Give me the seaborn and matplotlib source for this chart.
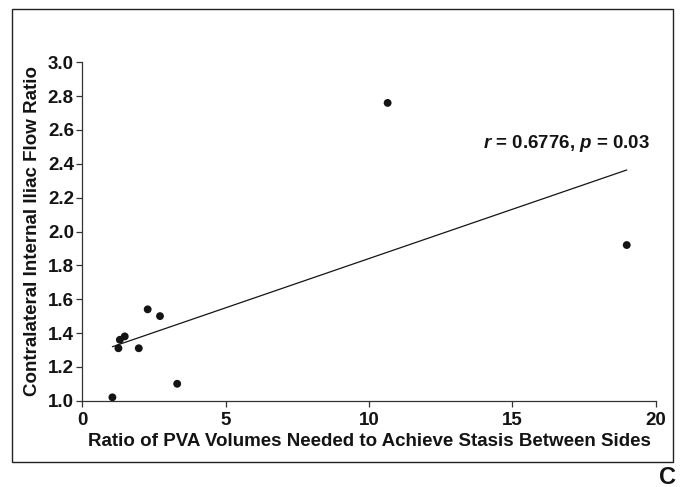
import matplotlib
matplotlib.use("Agg")
import matplotlib.pyplot as plt
import seaborn as sns
import numpy as np
import pandas as pd
from matplotlib.patches import Rectangle

# Data
pva_ratio = [1.05, 1.26, 1.31, 1.48, 1.97, 2.28, 2.71, 3.31, 10.65, 18.99]
flow_ratio = [1.02, 1.31, 1.36, 1.38, 1.31, 1.54, 1.50, 1.10, 2.76, 1.92]
x_ticks = [0, 5, 10, 15, 20]
y_ticks = [1.0, 1.2, 1.4, 1.6, 1.8, 2.0, 2.2, 2.4, 2.6, 2.8, 3.0]

df = pd.DataFrame({"x": pva_ratio, "y": flow_ratio})

sns.set_theme(style="ticks")
plt.rcParams['font.family'] = ['Liberation Sans', 'DejaVu Sans']
plt.rcParams['mathtext.fontset'] = 'custom'
plt.rcParams['mathtext.it'] = 'Liberation Sans:italic:bold'
plt.rcParams['mathtext.rm'] = 'Liberation Sans:bold'
plt.rcParams['mathtext.bf'] = 'Liberation Sans:bold'

INK = "#141414"
fig = plt.figure(figsize=(6.81, 4.87), dpi=100)
ax = fig.add_axes([82.3/681, 1-400.7/487, (655.7-82.3)/681, (400.7-62.3)/487])

sns.regplot(data=df, x="x", y="y", ci=None, ax=ax,
            scatter_kws=dict(s=32, color=INK, edgecolor="none", alpha=1, zorder=3),
            line_kws=dict(color=INK, lw=0.9))

FS = 13.5
ax.set_xlim(0, 20)
ax.set_ylim(1.0, 3.0)
ax.set_xticks(x_ticks)
ax.set_yticks(y_ticks)
ax.set_xticklabels([str(t) for t in x_ticks], fontsize=FS, fontweight="bold", color=INK)
ax.set_yticklabels([f"{t:.1f}" for t in y_ticks], fontsize=FS, fontweight="bold", color=INK)
ax.tick_params(axis="both", direction="out", length=4, width=0.9, color="#333333", pad=2)
ax.tick_params(axis="x", pad=4)
ax.spines["top"].set_visible(False)
ax.spines["right"].set_visible(False)
for s in ("left", "bottom"):
    ax.spines[s].set_linewidth(0.9)
    ax.spines[s].set_color("#333333")

ax.set_xlabel("Ratio of PVA Volumes Needed to Achieve Stasis Between Sides",
              fontsize=FS, fontweight="bold", color=INK, labelpad=3)
ax.set_ylabel("Contralateral Internal Iliac Flow Ratio",
              fontsize=FS, fontweight="bold", color=INK, labelpad=5)

ax.text(16.9, 2.52, r"$r$ = 0.6776, $p$ = 0.03",
        fontsize=FS, fontweight="bold", color=INK, ha="center", va="center")

fig.patches.append(Rectangle((12/681, 1-462/487), (673-12)/681, (462-9)/487,
                             transform=fig.transFigure, fill=False,
                             edgecolor="#222222", lw=1.0))
fig.text(667/681, 1-477/487, "C", fontsize=17, fontweight="bold",
         color=INK, ha="center", va="center")

fig.savefig("out.png", dpi=100)
